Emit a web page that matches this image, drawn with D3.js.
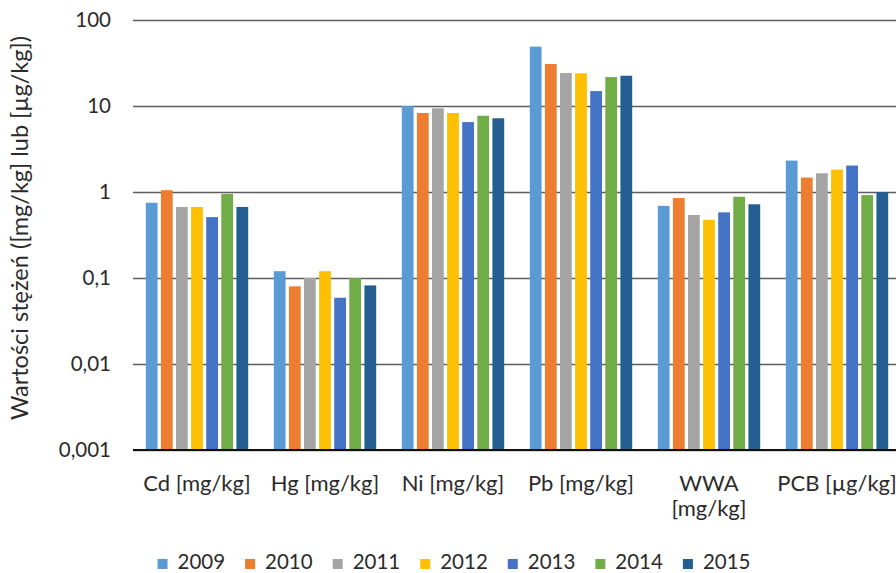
<!DOCTYPE html>
<html>
<head>
<meta charset="utf-8">
<script src="https://cdn.jsdelivr.net/npm/d3@7"></script>
<style>
  html, body { margin: 0; padding: 0; background: #fff; }
  svg { display: block; }
  text { font-family: Lato, "Open Sans", sans-serif; fill: #2b2b2b; }
</style>
</head>
<body>
<svg id="chart" width="896" height="573"></svg>
<script>
// ---- data ----
const categories = ["Cd [mg/kg]", "Hg [mg/kg]", "Ni [mg/kg]", "Pb [mg/kg]", "WWA [mg/kg]", "PCB [µg/kg]"];
const categoryLines = [["Cd [mg/kg]"], ["Hg [mg/kg]"], ["Ni [mg/kg]"], ["Pb [mg/kg]"], ["WWA", "[mg/kg]"], ["PCB [µg/kg]"]];
const years = ["2009", "2010", "2011", "2012", "2013", "2014", "2015"];
const v2009 = [0.75, 0.12, 10.0, 49, 0.69, 2.32];
const v2010 = [1.05, 0.080, 8.3, 30.8, 0.85, 1.47];
const v2011 = [0.67, 0.10, 9.4, 24.2, 0.54, 1.65];
const v2012 = [0.67, 0.12, 8.3, 24.0, 0.475, 1.82];
const v2013 = [0.51, 0.059, 6.5, 14.9, 0.58, 2.03];
const v2014 = [0.95, 0.10, 7.7, 21.7, 0.88, 0.92];
const v2015 = [0.67, 0.082, 7.2, 22.5, 0.72, 1.0];
const seriesValues = [v2009, v2010, v2011, v2012, v2013, v2014, v2015];
const colors = ["#5B9BD5", "#ED7D31", "#A5A5A5", "#FFC000", "#4472C4", "#70AD47", "#255E91"];
const tickValues = [0.001, 0.01, 0.1, 1, 10, 100];
const tickLabels = ["0,001", "0,01", "0,1", "1", "10", "100"];
const yTitle = "Wartości stężeń ([mg/kg] lub [µg/kg])";

// ---- layout ----
const svg = d3.select("#chart");
const plotLeft = 133, plotRight = 901, plotTop = 20, plotBottom = 450;

const x0 = d3.scaleBand().domain(categories).range([plotLeft, plotRight])
  .paddingInner(0.2).paddingOuter(0.1);
const x1 = d3.scaleBand().domain(years).range([0, x0.bandwidth()]).paddingInner(0.22);
const y = d3.scaleLog().domain([0.001, 100]).range([plotBottom, plotTop]);

// gridlines + y labels
const yAxis = d3.axisLeft(y)
  .tickValues(tickValues)
  .tickFormat((d, i) => tickLabels[i])
  .tickSizeInner(-(plotRight - plotLeft))
  .tickSizeOuter(0)
  .tickPadding(22);
const gy = svg.append("g").attr("transform", `translate(${plotLeft},0)`).call(yAxis);
gy.select(".domain").remove();
gy.selectAll(".tick line").attr("stroke", "#5e5e5e").attr("stroke-width", 1.3);
gy.selectAll(".tick text").attr("font-size", 20.5).attr("fill", "#2b2b2b")
  .style("font-family", "Lato, 'Open Sans', sans-serif");

// bars
const groups = svg.append("g").selectAll("g.grp")
  .data(categories)
  .join("g")
  .attr("class", "grp")
  .attr("transform", d => `translate(${x0(d)},0)`);

groups.selectAll("rect")
  .data((c, ci) => years.map((yr, si) => ({ yr, si, v: seriesValues[si][ci] })))
  .join("rect")
  .attr("x", d => x1(d.yr))
  .attr("width", x1.bandwidth())
  .attr("y", d => y(d.v))
  .attr("height", d => plotBottom - y(d.v))
  .attr("fill", d => colors[d.si]);

// baseline
svg.append("line")
  .attr("x1", plotLeft).attr("x2", plotRight)
  .attr("y1", y(0.001)).attr("y2", y(0.001))
  .attr("stroke", "#111").attr("stroke-width", 2);

// x labels
const xl = svg.append("g").selectAll("text")
  .data(categories)
  .join("text")
  .attr("text-anchor", "middle")
  .attr("font-size", 22)
  .attr("x", d => x0(d) + x0.bandwidth() / 2)
  .attr("y", 491);
xl.each(function (d, i) {
  const t = d3.select(this);
  categoryLines[i].forEach((line, li) => {
    t.append("tspan")
      .attr("x", x0(d) + x0.bandwidth() / 2)
      .attr("dy", li === 0 ? 0 : 25)
      .text(line);
  });
});

// y title
svg.append("text")
  .attr("transform", `translate(28,228) rotate(-90)`)
  .attr("text-anchor", "middle")
  .attr("font-size", 23.5)
  .text(yTitle);

// legend
const legend = svg.append("g");
const items = legend.selectAll("g").data(years).join("g");
items.append("rect").attr("width", 10).attr("height", 10).attr("y", -10)
  .attr("fill", (d, i) => colors[i]);
items.append("text").attr("x", 20).attr("y", 0).attr("font-size", 20.5).text(d => d);
let xpos = 0;
items.each(function () {
  const g = d3.select(this);
  const w = g.select("text").node().getComputedTextLength();
  g.attr("transform", `translate(${xpos},0)`);
  xpos += 20 + w + 20;
});
const totalW = xpos - 20;
legend.attr("transform", `translate(${454 - totalW / 2},569)`);
</script>
</body>
</html>
